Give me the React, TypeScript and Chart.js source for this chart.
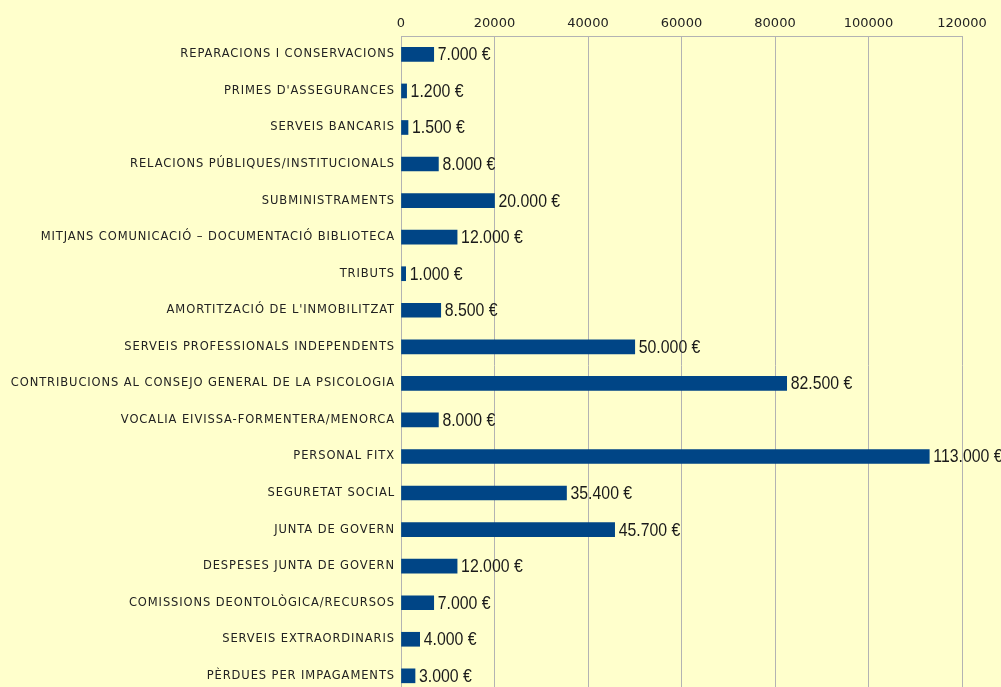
import React, { useEffect, useRef } from "react";
import { Chart, registerables } from "chart.js";

Chart.register(...registerables);

const categories: string[] = [
  "REPARACIONS I CONSERVACIONS",
  "PRIMES D'ASSEGURANCES",
  "SERVEIS BANCARIS",
  "RELACIONS PÚBLIQUES/INSTITUCIONALS",
  "SUBMINISTRAMENTS",
  "MITJANS COMUNICACIÓ – DOCUMENTACIÓ BIBLIOTECA",
  "TRIBUTS",
  "AMORTITZACIÓ DE L'INMOBILITZAT",
  "SERVEIS PROFESSIONALS INDEPENDENTS",
  "CONTRIBUCIONS AL CONSEJO GENERAL DE LA PSICOLOGIA",
  "VOCALIA EIVISSA-FORMENTERA/MENORCA",
  "PERSONAL FITX",
  "SEGURETAT SOCIAL",
  "JUNTA DE GOVERN",
  "DESPESES JUNTA DE GOVERN",
  "COMISSIONS DEONTOLÒGICA/RECURSOS",
  "SERVEIS EXTRAORDINARIS",
  "PÈRDUES PER IMPAGAMENTS",
];

const amounts: number[] = [
  7000, 1200, 1500, 8000, 20000, 12000, 1000, 8500, 50000, 82500, 8000, 113000,
  35400, 45700, 12000, 7000, 4000, 3000,
];

const axisMin = 0;
const axisMax = 120000;
const axisStep = 20000;

const BG = "#ffffcc";
const BAR = "#004586";
const GRID = "#b3b3b3";

function formatEuro(v: number): string {
  return String(v).replace(/\B(?=(\d{3})+(?!\d))/g, ".") + " €";
}

const valueLabels = {
  id: "valueLabels",
  afterDatasetsDraw(chart: any) {
    const ctx = chart.ctx;
    const meta = chart.getDatasetMeta(0);
    const sx = 0.88;
    meta.data.forEach((el: any, i: number) => {
      const v = chart.data.datasets[0].data[i] as number;
      ctx.save();
      ctx.font = "18px 'Liberation Sans', Arial, sans-serif";
      ctx.fillStyle = "#1a1a1a";
      ctx.textAlign = "left";
      ctx.textBaseline = "middle";
      ctx.translate(el.x + 4, el.y);
      ctx.scale(sx, 1);
      ctx.fillText(formatEuro(v), 0, 1);
      ctx.restore();
    });
    // category labels (drawn in a later layer) get wider tracking
    ctx.letterSpacing = "0.9px";
  },
  afterDraw(chart: any) {
    chart.ctx.letterSpacing = "0px";
  },
};

export default function App() {
  const ref = useRef<HTMLCanvasElement | null>(null);

  useEffect(() => {
    if (!ref.current) return;
    const chart = new Chart(ref.current, {
      type: "bar",
      data: {
        labels: categories,
        datasets: [
          {
            data: amounts,
            backgroundColor: BAR,
            borderWidth: 0,
            barThickness: 14,
          },
        ],
      },
      options: {
        indexAxis: "y",
        animation: false,
        responsive: false,
        devicePixelRatio: 1,
        layout: { padding: { top: 10.5, right: 39, bottom: 7, left: 0 } },
        plugins: {
          legend: { display: false },
          tooltip: { enabled: false },
        },
        scales: {
          x: {
            position: "top",
            min: axisMin,
            max: axisMax,
            ticks: {
              stepSize: axisStep,
              color: "#222",
              font: { family: "'DejaVu Sans', sans-serif", size: 13 },
              padding: 5,
              maxRotation: 0,
              callback: (v: any) => String(v),
            },
            grid: { color: GRID, drawTicks: false, lineWidth: 1 },
            border: { color: GRID, width: 1 },
          },
          y: {
            ticks: {
              color: "#222",
              font: { family: "'DejaVu Sans', sans-serif", size: 11.5 },
              padding: 6,
              autoSkip: false,
              z: 1,
            },
            grid: { display: false, drawTicks: false },
            border: { color: GRID, width: 1 },
            afterFit: (scale: any) => {
              scale.width = 401;
            },
          },
        },
      },
      plugins: [
        valueLabels,
        {
          id: "bg",
          beforeDraw(c: any) {
            const ctx = c.ctx;
            ctx.save();
            ctx.letterSpacing = "0px";
            ctx.fillStyle = BG;
            ctx.fillRect(0, 0, c.width, c.height);
            ctx.restore();
          },
        },
      ],
    });
    return () => chart.destroy();
  }, []);

  return (
    <div
      style={{
        position: "fixed",
        left: 0,
        top: 0,
        width: 1001,
        height: 687,
        overflow: "hidden",
        background: BG,
      }}
    >
      <canvas ref={ref} width={1001} height={707} style={{ display: "block" }} />
    </div>
  );
}
